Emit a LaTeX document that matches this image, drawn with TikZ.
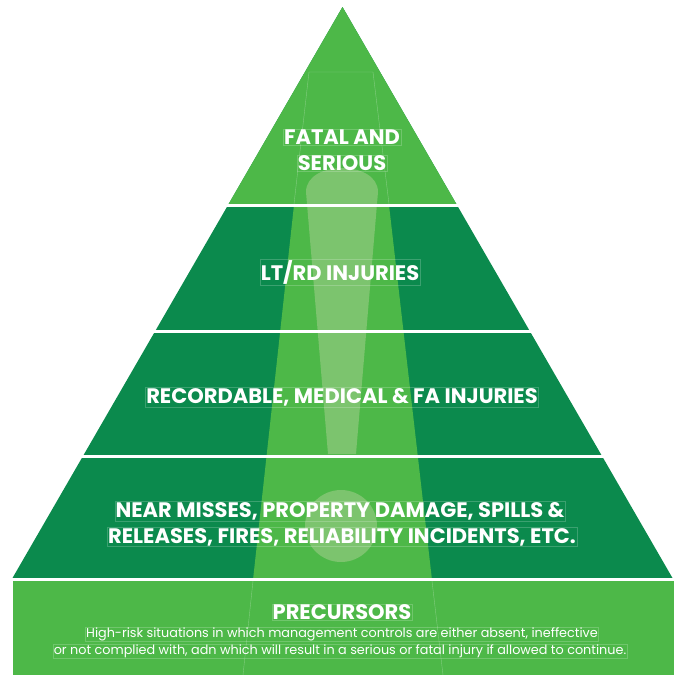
\documentclass[tikz,border=0pt]{standalone}
\usepackage{fontspec}
\setmainfont{Poppins}
\definecolor{lightgreen}{HTML}{4DB848}
\definecolor{darkgreen}{HTML}{0B8A4D}
\definecolor{bangcolor}{HTML}{7CC46E}
\begin{document}
\begin{tikzpicture}[x=1pt,y=-1pt,
		level/.style={font=\bfseries\fontsize{21}{21}\selectfont, text=white, draw=white, draw opacity=0.2, line width=0.3pt, inner sep=0.8pt},
		note/.style={font=\fontsize{12.8}{12.8}\selectfont, text=white, draw=white, draw opacity=0.2, line width=0.3pt, inner sep=0.6pt},
		faint/.style={draw=white, draw opacity=0.3, line width=0.4pt}]
				\useasboundingbox (0,0) rectangle (674,675);
				% pyramid
				\fill[darkgreen] (342.5,7)--(672.5,578)--(12.5,578)--cycle;
				\fill[lightgreen] (342.5,7)--(456.4,204)--(228.6,204)--cycle;
				\begin{scope}
					\clip (342.5,7)--(672.5,578)--(12.5,578)--cycle;
					\fill[lightgreen] (294,205)--(389,205)--(432,580)--(253,580)--cycle;
				\end{scope}
				% bottom band
				\fill[lightgreen] (13,581) rectangle (674,675);
				% exclamation mark
				\fill[bangcolor] (328,454)--(306,192) .. controls (306,160) and (378,160) .. (378,192)--(356,454)--cycle;
				\fill[bangcolor] (341,526) circle (36);
				% separators
				\foreach \y in {205.5,331,456,579.5}
					\draw[white, line width=3pt] (0,\y)--(674,\y);
				% faint beam outline
				\draw[faint] (294,204)--(309,72)--(373,72)--(389,204);
				\draw[faint] (253,581)--(243,675);
				\draw[faint] (432,581)--(443,675);

				\node[level] (fatal1) at (342,137) {FATAL AND};
				\node[level] (fatal2) at (342,163) {SERIOUS};
				\node[level] (ltrd) at (340,272) {LT/RD INJURIES};
				\node[level] (record) at (342,397) {RECORDABLE, MEDICAL \& FA INJURIES};
				\node[level] (near1) at (340,511) {NEAR MISSES, PROPERTY DAMAGE, SPILLS \&};
				\node[level] (near2) at (342,537) {RELEASES, FIRES, RELIABILITY INCIDENTS, ETC.};
				\node[level] (precursors) at (342,612) {PRECURSORS};
				\node[note] (desc1) at (342,634) {High-risk situations in which management controls are either absent, ineffective};
				\node[note] (desc2) at (340,651) {or not complied with, adn which will result in a serious or fatal injury if allowed to continue.};
\end{tikzpicture}
\end{document}
